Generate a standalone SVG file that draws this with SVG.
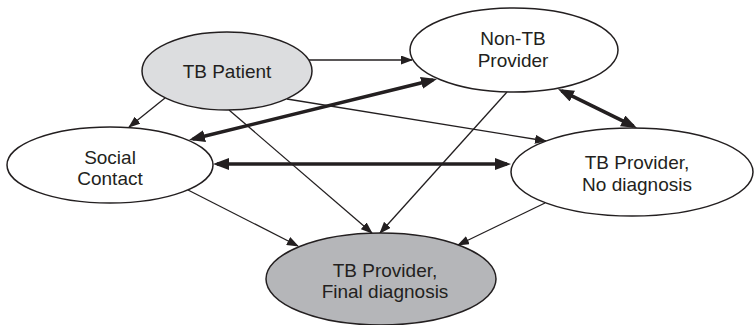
<svg xmlns="http://www.w3.org/2000/svg" width="754" height="325" viewBox="0 0 754 325">
<style>
.node{stroke:#231f20;stroke-width:1.5}
.lbl{font-family:"Liberation Sans",Arial,sans-serif;font-size:19px;fill:#231f20;text-anchor:middle}
.thin{stroke:#231f20;stroke-width:1.3;fill:none}
.thick{stroke:#231f20;stroke-width:3.6;fill:none}
</style>
<defs>
<marker id="ah" markerUnits="userSpaceOnUse" viewBox="0 0 12 9" markerWidth="12" markerHeight="9" refX="11" refY="4.5" orient="auto">
<path d="M0,0 L12,4.5 L0,9 z" fill="#231f20"/>
</marker>
<marker id="ahT" markerUnits="userSpaceOnUse" viewBox="0 0 16 12" markerWidth="16" markerHeight="12" refX="12" refY="6" orient="auto-start-reverse">
<path d="M0,0 L16,6 L0,12 z" fill="#231f20"/>
</marker>
</defs>
<rect width="754" height="325" fill="#ffffff"/>
<g id="connectors">
<line class="thin" x1="309" y1="60" x2="412" y2="60" marker-end="url(#ah)"/>
<line class="thin" x1="165" y1="98" x2="129" y2="127" marker-end="url(#ah)"/>
<line class="thin" x1="287" y1="99" x2="546" y2="141" marker-end="url(#ah)"/>
<line class="thin" x1="229" y1="110" x2="372" y2="233" marker-end="url(#ah)"/>
<line class="thin" x1="507" y1="92" x2="380" y2="233" marker-end="url(#ah)"/>
<line class="thin" x1="188" y1="190" x2="298" y2="246" marker-end="url(#ah)"/>
<line class="thin" x1="545" y1="203" x2="458" y2="245" marker-end="url(#ah)"/>
<line class="thick" x1="192.9" y1="139" x2="433.1" y2="80" marker-start="url(#ahT)" marker-end="url(#ahT)"/>
<line class="thick" x1="217" y1="164" x2="507" y2="164" marker-start="url(#ahT)" marker-end="url(#ahT)"/>
<line class="thick" x1="561.6" y1="90.8" x2="633.4" y2="126.2" marker-start="url(#ahT)" marker-end="url(#ahT)"/>
</g>
<g id="tb-patient">
<ellipse class="node" cx="227" cy="71" rx="85" ry="39" fill="#dcdddf"/>
<text class="lbl" x="227" y="78">TB Patient</text>
</g>
<g id="non-tb-provider">
<ellipse class="node" cx="514" cy="50" rx="104" ry="42" fill="#ffffff"/>
<text class="lbl" x="513" y="45">Non-TB</text>
<text class="lbl" x="513" y="67">Provider</text>
</g>
<g id="social-contact">
<ellipse class="node" cx="110" cy="165" rx="103" ry="38" fill="#ffffff"/>
<text class="lbl" x="110" y="164">Social</text>
<text class="lbl" x="110" y="185">Contact</text>
</g>
<g id="tb-provider-no-diagnosis">
<ellipse class="node" cx="632" cy="172" rx="121" ry="44" fill="#ffffff"/>
<text class="lbl" x="637" y="169">TB Provider,</text>
<text class="lbl" x="637" y="191">No diagnosis</text>
</g>
<g id="tb-provider-final-diagnosis">
<ellipse class="node" cx="381" cy="279" rx="115" ry="46" fill="#b5b6b9"/>
<text class="lbl" x="385" y="277">TB Provider,</text>
<text class="lbl" x="385" y="298">Final diagnosis</text>
</g>
</svg>
